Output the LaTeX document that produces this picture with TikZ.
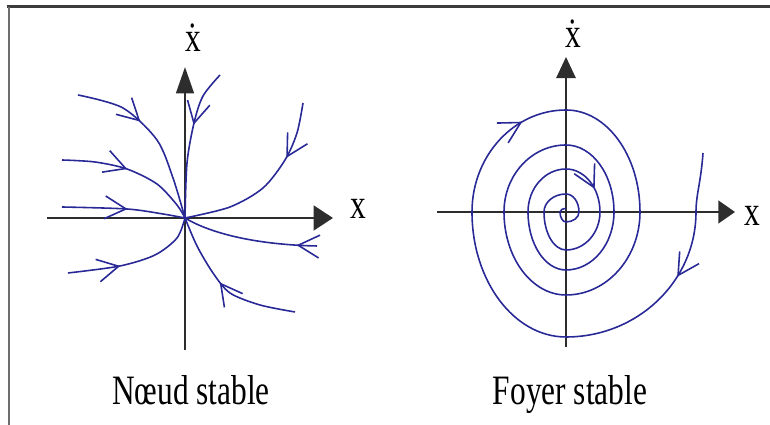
\documentclass[tikz,border=0pt]{standalone}
\usepackage{fontspec}
\newfontfamily\plotfont[FakeStretch=0.75]{Liberation Serif}
\usetikzlibrary{arrows.meta, decorations.markings}
\definecolor{trajblue}{RGB}{40, 40, 150}
\definecolor{axisgray}{RGB}{45, 45, 45}
\definecolor{framegray}{RGB}{60, 60, 60}

\begin{document}
\begin{tikzpicture}[
  traj/.style={trajblue, line width=0.9pt},
  axisline/.style={draw=axisgray, line width=1.6pt},
  lbl/.style={font=\plotfont\fontsize{23.8}{28}\selectfont, inner sep=0pt},
  flowat/.style={postaction={decorate, decoration={markings,
      mark=at position #1 with {\arrow{Straight Barb[length=12pt, width=13pt]}}}}}
]
  \useasboundingbox (0,0) rectangle (15.4,8.5);

  % frame
  \draw[framegray, line width=1.7pt] (0.13,8.36) -- (15.4,8.36);
  \draw[framegray!75, line width=1.1pt] (0.18,8.36) -- (0.18,0);

  % noeud stable
  \begin{scope}[shift={(3.70,4.14)}]
    \coordinate (O1) at (0,0);
    \draw[axisline, -{Triangle[length=11pt, width=14pt]}] (-2.76,0) -- (2.96,0);
    \draw[axisline, -{Triangle[length=15pt, width=10pt]}] (0,-2.64) -- (0,3.02);
    \node[lbl] (xlab1) at (3.46,0.18) {x};
    \node[lbl] (xdot1) at (0.16,3.60) {\accent"02D9 x};

    \draw[traj, flowat=0.39] plot[smooth] coordinates {(-2.14,2.46) (-1.24,2.20) (-0.56,1.56) (-0.24,0.80) (O1)};
    \draw[traj, flowat=0.46] plot[smooth] coordinates {(-2.46,1.16) (-1.80,1.12) (-1.16,0.98) (-0.56,0.68) (-0.16,0.26) (O1)};
    \draw[traj, flowat=0.53] plot[smooth] coordinates {(-2.46,0.22) (-1.16,0.18) (-0.44,0.08) (O1)};
    \draw[traj, flowat=0.38] plot[smooth] coordinates {(-2.34,-1.10) (-1.30,-0.96) (-0.60,-0.74) (-0.16,-0.40) (O1)};
    \draw[traj, flowat=0.38] plot[smooth] coordinates {(0.70,2.86) (0.36,2.44) (0.18,1.90) (0.04,1.10) (O1)};
    \draw[traj, flowat=0.32] plot[smooth] coordinates {(2.36,2.30) (2.24,1.70) (2.00,1.16) (1.56,0.60) (0.90,0.22) (O1)};
    \draw[traj, flowat=0.15] (2.64,-0.56) .. controls (1.60,-0.54) and (0.60,-0.36) .. (O1);
    \draw[traj, flowat=0.53] plot[smooth] coordinates {(2.20,-1.88) (1.50,-1.74) (0.90,-1.50) (0.56,-1.10) (0.24,-0.56) (O1)};
  \end{scope}

  % foyer stable
  \begin{scope}[shift={(11.32,4.26)}]
    \coordinate (O2) at (0,0);
    \draw[axisline, line width=1.1pt, -{Triangle[length=9.5pt, width=13pt]}] (-2.58,0) -- (3.38,0);
    \draw[axisline, line width=1.1pt, -{Triangle[length=12pt, width=11pt]}] (0,-2.70) -- (0,3.10);
    \node[lbl] (xlab2) at (3.72,-0.08) {x};
    \node[lbl] (xdot2) at (0.14,3.57) {\accent"02D9 x};

    \draw[traj, flowat=0.078, flowat=0.33, flowat=0.864]
      (2.74,1.18) .. controls (2.70,0.60) and (2.60,0.35) .. (2.60,0)
      \foreach \rx/\ry [count=\k from 0] in {2.60/2.50, 1.88/2.50, 1.88/2.04, 1.48/2.04,
          1.48/1.66, 1.24/1.66, 1.24/1.34, 0.96/1.34, 0.96/1.16, 0.76/1.16, 0.76/0.86,
          0.68/0.86, 0.68/0.76, 0.44/0.76, 0.44/0.36, 0.26/0.36, 0.26/0.20, 0.12/0.20, 0.12/0.07}
        { arc[start angle={-90*\k}, delta angle=-90, x radius=\rx, y radius=\ry] };
  \end{scope}

  \node[lbl, anchor=base] (noeud) at (3.82,0.40) {Nœud stable};
  \node[lbl, anchor=base] (foyer) at (11.40,0.40) {Foyer stable};
\end{tikzpicture}
\end{document}
